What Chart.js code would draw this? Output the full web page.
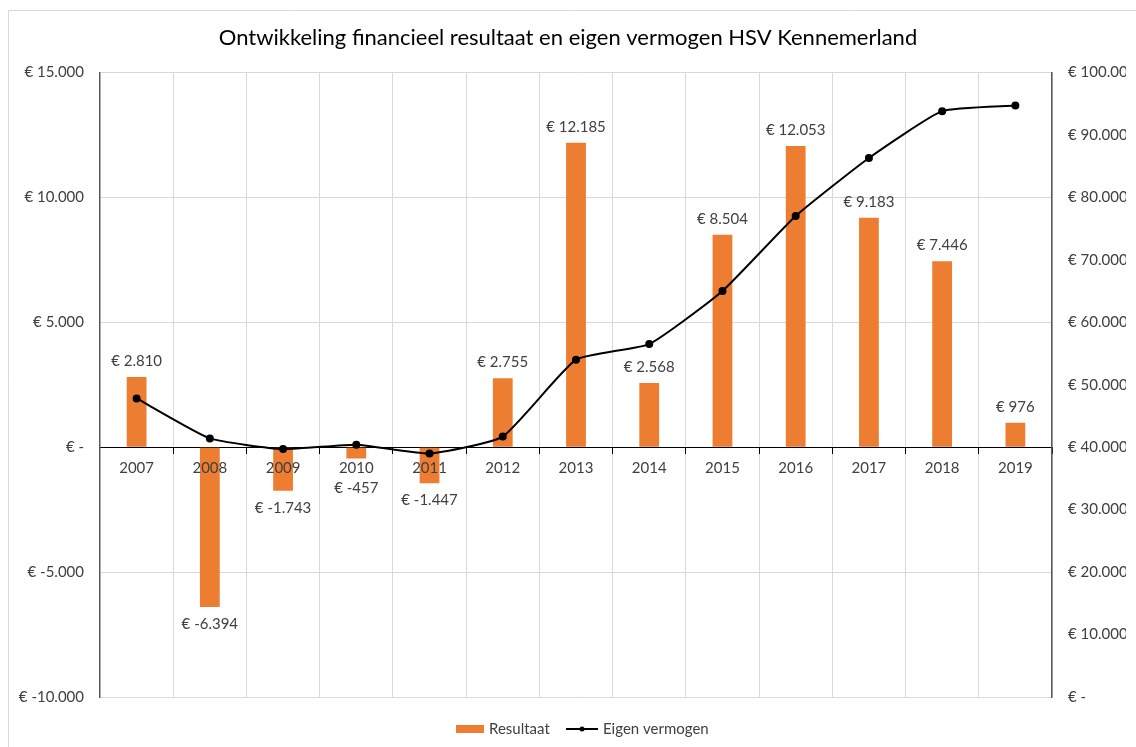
<!DOCTYPE html>
<html>
<head>
<meta charset="utf-8">
<script src="https://cdn.jsdelivr.net/npm/chart.js@4.4.0/dist/chart.umd.min.js"></script>
<style>
    html, body { margin: 0; padding: 0; background: #fff; }
    #wrap { width: 1136px; height: 747px; position: relative; }
</style>
</head>
<body>
<div id="wrap"><canvas id="resultChart"></canvas></div>
<script>
// Data
const years = ['2007', '2008', '2009', '2010', '2011', '2012', '2013', '2014', '2015', '2016', '2017', '2018', '2019'];
const resultaat = [2810, -6394, -1743, -457, -1447, 2755, 12185, 2568, 8504, 12053, 9183, 7446, 976];
const eigenVermogen = [47800, 41400, 39700, 40400, 39000, 41700, 54000, 56500, 65000, 77000, 86300, 93800, 94700];

const FONT = 'Lato, "Open Sans", sans-serif';
const TEXT = '#404040';
const ORANGE = '#ED7D31';

// € 12.185 style (Dutch thousands separator)
function euro(v) {
    if (v === 0) return '€ -';
    const sign = v < 0 ? '-' : '';
    const s = Math.abs(Math.round(v)).toString().replace(/\B(?=(\d{3})+(?!\d))/g, '.');
    return '€ ' + sign + s;
}

// light frame around the picture
const framePlugin = {
    id: 'frame',
    beforeDraw(chart) {
        const c = chart.ctx;
        c.save();
        c.strokeStyle = '#d9d9d9';
        c.lineWidth = 1;
        c.beginPath();
        c.moveTo(8.5, 747);
        c.lineTo(8.5, 10.5);
        c.lineTo(1136, 10.5);
        c.stroke();
        c.restore();
    }
};

// value labels above/below the bars + year labels on top of the bars
const barLabels = {
    id: 'barLabels',
    afterDatasetsDraw(chart) {
        const c = chart.ctx;
        const meta = chart.getDatasetMeta(1);
        const xScale = chart.scales.x;
        const zeroY = chart.scales.y.getPixelForValue(0);
        c.save();
        c.font = '15px ' + FONT;
        c.fillStyle = TEXT;
        c.textAlign = 'center';
        c.textBaseline = 'middle';
        meta.data.forEach(function (bar, i) {
            const v = resultaat[i];
            // negative labels stay clear of the year labels
            const y = v >= 0 ? bar.y - 16 : Math.max(bar.y + 17, zeroY + 41);
            c.fillText(euro(v), bar.x, y);
        });
        years.forEach(function (yr, i) {
            c.fillText(yr, xScale.getPixelForValue(i), zeroY + 21);
        });
        c.restore();
    }
};

// legend drawn by hand (bar box + line with dot)
const legendPlugin = {
    id: 'customLegend',
    afterDraw(chart) {
        const c = chart.ctx;
        const y = 729;
        c.save();
        c.font = '15px ' + FONT;
        c.textBaseline = 'middle';
        c.textAlign = 'left';

        c.fillStyle = ORANGE;
        c.fillRect(456, y - 4, 28, 8);
        c.fillStyle = TEXT;
        c.fillText('Resultaat', 489, y);

        c.strokeStyle = '#000';
        c.lineWidth = 2;
        c.beginPath();
        c.moveTo(566, y);
        c.lineTo(598, y);
        c.stroke();
        c.fillStyle = '#000';
        c.beginPath();
        c.arc(582, y, 2.5, 0, Math.PI * 2);
        c.fill();
        c.fillStyle = TEXT;
        c.fillText('Eigen vermogen', 603, y);
        c.restore();
    }
};

const ctx = document.getElementById('resultChart').getContext('2d');
new Chart(ctx, {
    data: {
        labels: years,
        datasets: [
            {
                type: 'line',
                label: 'Eigen vermogen',
                data: eigenVermogen,
                yAxisID: 'y1',
                borderColor: '#000',
                backgroundColor: '#000',
                borderWidth: 2,
                pointRadius: 3,
                pointBackgroundColor: '#000',
                tension: 0.15,
                order: 0
            },
            {
                type: 'bar',
                label: 'Resultaat',
                data: resultaat,
                yAxisID: 'y',
                backgroundColor: ORANGE,
                barPercentage: 0.27,
                categoryPercentage: 1,
                order: 1
            }
        ]
    },
    options: {
        responsive: true,
        maintainAspectRatio: false,
        animation: false,
        layout: { padding: { left: 10, right: 10, top: 0, bottom: 50 } },
        plugins: {
            legend: { display: false },
            tooltip: { enabled: false },
            title: {
                display: true,
                text: 'Ontwikkeling financieel resultaat en eigen vermogen HSV Kennemerland',
                color: '#000',
                font: { family: FONT, size: 22, weight: 'normal' },
                padding: { top: 25, bottom: 21 }
            }
        },
        scales: {
            x: {
                position: { y: 0 },
                offset: true,
                grid: {
                    offset: true,
                    color: '#d9d9d9',
                    tickColor: '#000',
                    tickLength: 6
                },
                border: { color: '#000', width: 1 },
                ticks: {
                    // year labels are drawn by the barLabels plugin, above the bars
                    color: 'rgba(0,0,0,0)',
                    font: { family: FONT, size: 15 },
                    padding: 3
                }
            },
            y: {
                position: 'left',
                min: -10000,
                max: 15000,
                ticks: {
                    stepSize: 5000,
                    color: TEXT,
                    font: { family: FONT, size: 15 },
                    padding: 16,
                    callback: function (v) { return euro(v); }
                },
                grid: {
                    color: function (c) { return c.tick && c.tick.value === 0 ? '#000' : '#d9d9d9'; },
                    drawTicks: false
                },
                border: { color: '#595959', width: 1.5 },
                afterFit: function (s) { s.width = 90; }
            },
            y1: {
                position: 'right',
                min: 0,
                max: 100000,
                ticks: {
                    stepSize: 10000,
                    color: TEXT,
                    font: { family: FONT, size: 15 },
                    padding: 16,
                    callback: function (v) { return euro(v); }
                },
                grid: { drawOnChartArea: false, drawTicks: false },
                border: { color: '#595959', width: 1.5 },
                afterFit: function (s) { s.width = 74; }
            }
        }
    },
    plugins: [framePlugin, barLabels, legendPlugin]
});
</script>
</body>
</html>
